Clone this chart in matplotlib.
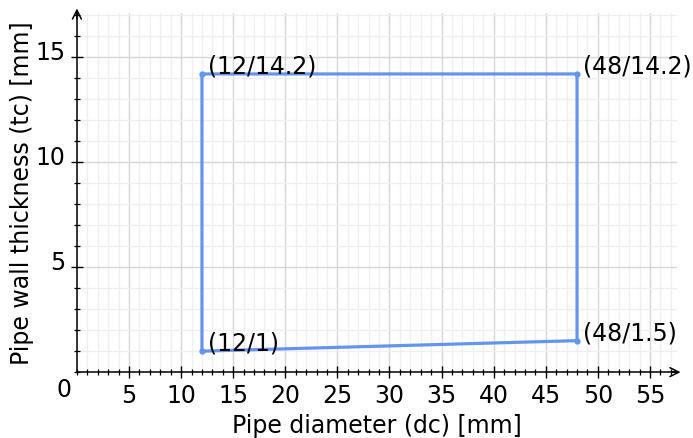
import matplotlib
matplotlib.use('Agg')
import matplotlib.pyplot as plt
import matplotlib.transforms as mtransforms
from matplotlib.ticker import MultipleLocator

# corner points of the region (dc / tc)
dc = [12, 12, 48, 48]
tc = [1, 14.2, 14.2, 1.5]
point_labels = ['(12/1)', '(12/14.2)', '(48/14.2)', '(48/1.5)']

x_ticks = [5, 10, 15, 20, 25, 30, 35, 40, 45, 50, 55]
y_ticks = [5, 10, 15]

blue = '#6495ed'
fs = 17

fig = plt.figure(figsize=(6.93, 4.39), dpi=100)
ax = fig.add_axes([0.111, 0.150, 0.866, 0.818])
ax.set_xlim(0, 57.6)
ax.set_ylim(0, 17.1)

# grid
ax.xaxis.set_major_locator(MultipleLocator(5))
ax.yaxis.set_major_locator(MultipleLocator(5))
ax.xaxis.set_minor_locator(MultipleLocator(1))
ax.yaxis.set_minor_locator(MultipleLocator(1))
ax.grid(which='major', color='#d6d6d6', linewidth=1.0)
ax.grid(which='minor', color='#efefef', linewidth=0.9)
ax.set_axisbelow(True)

for s in ['top', 'right']:
    ax.spines[s].set_visible(False)
for s in ['left', 'bottom']:
    ax.spines[s].set_linewidth(1.1)

ax.tick_params(which='major', direction='inout', length=8, width=1.0, labelsize=fs, pad=4)
ax.tick_params(which='minor', direction='inout', length=5, width=0.9)
ax.set_xticks(x_ticks)
ax.set_yticks(y_ticks)
ax.set_xticklabels([str(v) for v in x_ticks])
ax.set_yticklabels([str(v) for v in y_ticks])
shift = mtransforms.ScaledTranslation(0, 8 / 100, fig.dpi_scale_trans)
for lbl in ax.get_yticklabels():
    lbl.set_transform(lbl.get_transform() + shift)

# axis arrows
ax.annotate('', xy=(58.2, 0), xytext=(56.8, 0),
            arrowprops=dict(arrowstyle='->', color='black', lw=1.1, mutation_scale=16),
            annotation_clip=False)
ax.annotate('', xy=(0, 17.45), xytext=(0, 16.7),
            arrowprops=dict(arrowstyle='->', color='black', lw=1.1, mutation_scale=16),
            annotation_clip=False)

ax.annotate('0', xy=(0, 0), xytext=(-9, -12), textcoords='offset points',
            fontsize=fs, ha='center', va='center', annotation_clip=False)

# the closed region
ax.plot(dc + dc[:1], tc + tc[:1], color=blue, linewidth=2.3, zorder=3)
ax.plot(dc, tc, 'o', color=blue, markersize=3.5, zorder=4)
for x, y, t in zip(dc, tc, point_labels):
    ax.annotate(t, xy=(x, y), xytext=(4, 6), textcoords='offset points',
                fontsize=fs, ha='left', va='center')

ax.set_xlabel('Pipe diameter (dc) [mm]', fontsize=fs, labelpad=4)
ax.set_ylabel('Pipe wall thickness (tc) [mm]', fontsize=fs, labelpad=1)

fig.savefig('out.png', dpi=100)
